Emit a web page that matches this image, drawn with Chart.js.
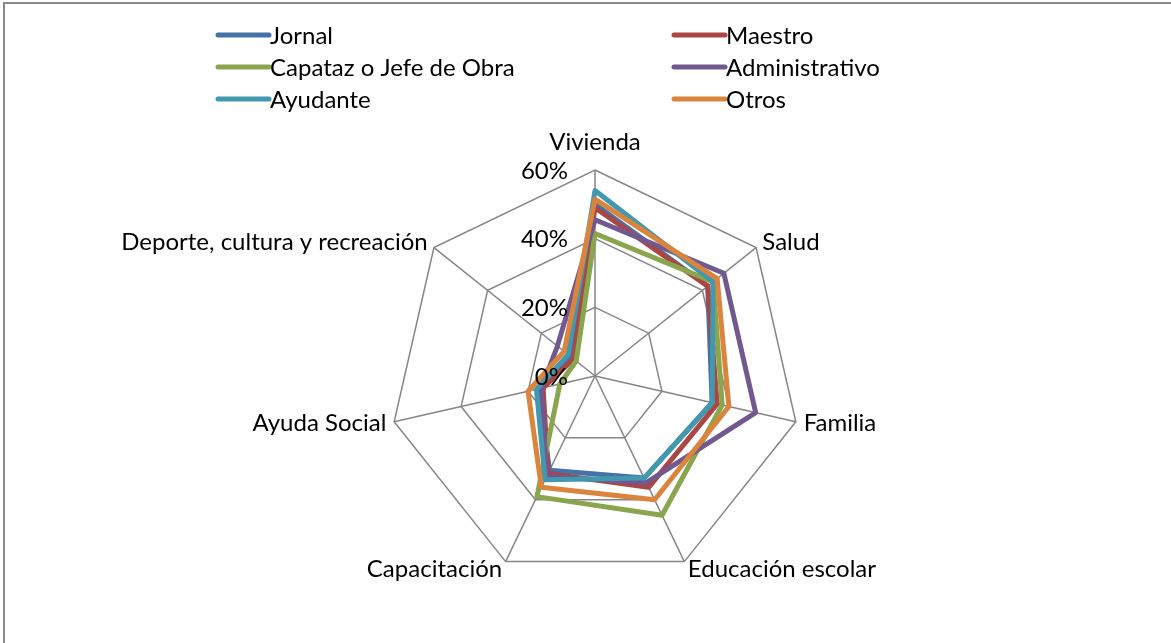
<!DOCTYPE html>
<html>
<head>
<meta charset="utf-8">
<script src="https://cdn.jsdelivr.net/npm/chart.js@4.4.0/dist/chart.umd.min.js"></script>
<style>
  html, body { margin: 0; padding: 0; background: #fff; overflow: hidden; }
  #wrap { position: relative; width: 1171px; height: 643px; }
  #frame { position: absolute; left: 3px; top: 2px; width: 1400px; height: 900px; border: 2px solid #8b8b8b; box-sizing: border-box; }
  canvas { position: absolute; left: 0; top: 0; }
</style>
</head>
<body>
<div id="wrap">
  <div id="frame"></div>
  <canvas id="radarChart" width="1171" height="643"></canvas>
</div>
<script>
const categories = ["Vivienda", "Salud", "Familia", "Educación escolar", "Capacitación", "Ayuda Social", "Deporte, cultura y recreación"];
const tickValues = [0, 20, 40, 60];

const seriesNames = ["Jornal", "Maestro", "Capataz o Jefe de Obra", "Administrativo", "Ayudante", "Otros"];
const seriesColors = ["#4572A7", "#AA4643", "#89A54E", "#71588F", "#4198AF", "#DB843D"];

const jornal         = [50.0, 42.0, 35.0, 33.0, 30.5, 17.0, 9.0];
const maestro        = [49.0, 42.0, 36.5, 36.0, 31.5, 15.5, 8.0];
const capataz        = [41.5, 44.0, 38.0, 45.0, 39.0, 10.5, 7.0];
const administrativo = [45.5, 48.0, 48.0, 34.5, 32.5, 16.0, 14.0];
const ayudante       = [54.0, 44.0, 35.0, 33.0, 33.5, 17.5, 10.0];
const otros          = [51.5, 45.5, 40.0, 40.0, 36.0, 20.0, 11.5];

const seriesValues = [jornal, maestro, capataz, administrativo, ayudante, otros];
const FONT = '24px Lato, "Liberation Sans", sans-serif';

// tick labels, category labels and the two-column legend, Excel style
const excelLabels = {
    id: 'excelLabels',
    afterDraw(chart) {
        const ctx = chart.ctx;
        const scale = chart.scales.r;
        ctx.save();
        ctx.font = FONT;
        ctx.fillStyle = '#000';

        ctx.textAlign = 'right';
        ctx.textBaseline = 'middle';
        scale.ticks.forEach(t => {
            const d = scale.getDistanceFromCenterForValue(t.value);
            ctx.fillText(t.value + '%', scale.xCenter - 27, scale.yCenter - d + 1);
        });

        categories.forEach((label, i) => {
            const top = i === 0;
            const pos = scale.getPointPosition(i, scale.drawingArea + (top ? 28 : 8));
            if (top) ctx.textAlign = 'center';
            else ctx.textAlign = pos.x > scale.xCenter ? 'left' : 'right';
            ctx.textBaseline = 'middle';
            ctx.fillText(label, pos.x, pos.y);
        });

        ctx.lineWidth = 5;
        ctx.lineCap = 'round';
        ctx.textAlign = 'left';
        seriesNames.forEach((name, i) => {
            const col = i % 2, row = Math.floor(i / 2);
            const x = col === 0 ? 218 : 674;
            const y = 35 + row * 32;
            ctx.strokeStyle = seriesColors[i];
            ctx.beginPath();
            ctx.moveTo(x, y);
            ctx.lineTo(x + 51, y);
            ctx.stroke();
            ctx.fillText(name, x + 52, y + 1);
        });
        ctx.restore();
    }
};

const radarCtx = document.getElementById('radarChart').getContext('2d');
const radarChart = new Chart(radarCtx, {
    type: 'radar',
    data: {
        labels: categories,
        datasets: seriesNames.map((name, i) => ({
            label: name,
            data: seriesValues[i],
            borderColor: seriesColors[i],
            backgroundColor: seriesColors[i],
            borderWidth: 5,
            fill: false,
            pointRadius: 0,
            order: seriesNames.length - i
        }))
    },
    options: {
        responsive: false,
        animation: false,
        elements: { line: { tension: 0, borderJoinStyle: 'round' } },
        plugins: {
            legend: { display: false },
            tooltip: { enabled: false }
        },
        scales: {
            r: {
                min: tickValues[0],
                max: tickValues[tickValues.length - 1],
                ticks: { display: false, stepSize: 20 },
                pointLabels: { display: false },
                grid: { color: '#868686', lineWidth: 1.5 },
                angleLines: { color: '#868686', lineWidth: 1.5 },
                afterFit: (scale) => {
                    scale.xCenter = 595;
                    scale.yCenter = 376;
                    scale.drawingArea = 206;
                }
            }
        }
    },
    plugins: [excelLabels]
});
</script>
</body>
</html>
